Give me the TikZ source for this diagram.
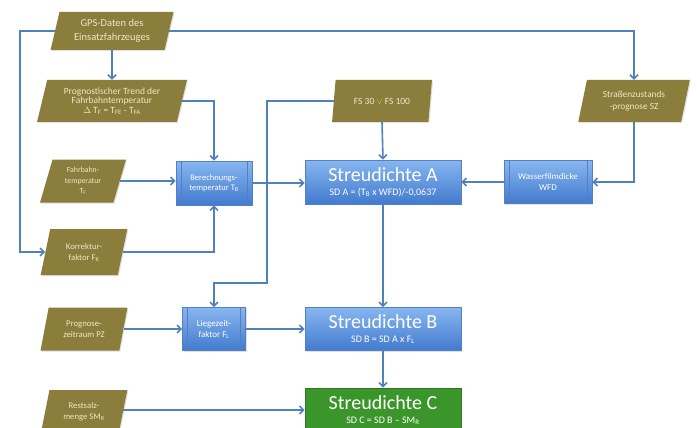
\documentclass[tikz,border=0pt]{standalone}
\usepackage{fontspec}
\setmainfont{Carlito}
\usetikzlibrary{shapes.geometric,arrows.meta,shadows}
\definecolor{olivebox}{RGB}{139,125,60}
\definecolor{cream}{RGB}{240,232,195}
\definecolor{lineblue}{RGB}{79,129,189}
\definecolor{boxtop}{RGB}{135,182,240}
\definecolor{boxbot}{RGB}{66,122,206}
\definecolor{boxedge}{RGB}{82,128,192}
\definecolor{greenbox}{RGB}{58,150,42}
\definecolor{veecol}{RGB}{225,205,90}
\tikzset{
  para/.style={trapezium, trapezium left angle=75, trapezium right angle=105,
    trapezium stretches=true, fill=olivebox, text=cream, align=center,
    inner sep=1pt, font=\fontsize{9.5}{11}\selectfont,
    drop shadow={opacity=0.25, shadow xshift=1pt, shadow yshift=-1pt}},
  bluebox/.style={rectangle, top color=boxtop, bottom color=boxbot,
    draw=boxedge, line width=0.6pt, text=white, align=center, inner sep=1pt,
    drop shadow={opacity=0.25, shadow xshift=1pt, shadow yshift=-1pt}},
  procbox/.style={bluebox, font=\fontsize{8.5}{10.5}\selectfont,
    path picture={
      \draw[boxedge, line width=0.6pt]
        ([xshift=5pt]path picture bounding box.north west) --
        ([xshift=5pt]path picture bounding box.south west);
      \draw[boxedge, line width=0.6pt]
        ([xshift=-5pt]path picture bounding box.north east) --
        ([xshift=-5pt]path picture bounding box.south east);}},
  sdbox/.style={bluebox},
  greenbx/.style={rectangle, fill=greenbox, draw=greenbox!80!black,
    line width=0.6pt, text=white, align=center, inner sep=1pt,
    drop shadow={opacity=0.25, shadow xshift=1pt, shadow yshift=-1pt}},
  conn/.style={draw=lineblue, line width=1.6pt,
    -{Straight Barb[length=4pt,width=8pt]}},
}
\newcommand{\bigT}[1]{{\fontsize{20}{21}\selectfont #1}}
\newcommand{\smT}[1]{{\fontsize{10}{11}\selectfont #1}}
\begin{document}
\begin{tikzpicture}[x=1pt,y=-1pt]
\useasboundingbox (0,0) rectangle (697,428);
\clip (0,0) rectangle (697,428);
\fill[white] (0,0) rectangle (697,428);

% input parallelograms
\node[para, minimum width=124pt, minimum height=38pt, font=\fontsize{10.5}{13.5}\selectfont] (gps) at (112,31) {GPS-Daten des\\Einsatzfahrzeuges};
\node[para, minimum width=150pt, minimum height=42pt, font=\fontsize{9.5}{9.5}\selectfont] (trend) at (112,101) {Prognostischer Trend der\\Fahrbahntemperatur\\$\Delta$ T\textsubscript{F} = T\textsubscript{FE} - T\textsubscript{FA}};
\node[para, minimum width=86pt, minimum height=43pt, font=\fontsize{7.8}{10.5}\selectfont] (fbt) at (83,181) {Fahrbahn-\\temperatur\\T\textsubscript{F}};
\node[para, minimum width=87pt, minimum height=46pt, font=\fontsize{8.7}{11}\selectfont] (kor) at (84,252) {Korrektur-\\faktor F\textsubscript{K}};
\node[para, minimum width=87pt, minimum height=43pt, font=\fontsize{8.7}{11}\selectfont] (prz) at (84,329) {Prognose-\\zeitraum PZ};
\node[para, minimum width=87pt, minimum height=44pt, font=\fontsize{8.7}{11}\selectfont] (rest) at (84,412) {Restsalz-\\menge SM\textsubscript{R}};
\node[para, minimum width=100pt, minimum height=42pt] (fs) at (382,101) {FS 30 \textcolor{veecol}{$\vee$} FS 100};
\node[para, minimum width=112pt, minimum height=42pt, font=\fontsize{9.3}{12}\selectfont] (sza) at (634,101) {Straßenzustands\\-prognose SZ};

% process boxes
\node[procbox, minimum width=76pt, minimum height=44pt] (ber) at (214,183) {Berechnungs-\\temperatur T\textsubscript{B}};
\node[procbox, minimum width=63pt, minimum height=43pt, font=\fontsize{9}{11}\selectfont] (lieg) at (214,329) {Liegezeit-\\faktor F\textsubscript{L}};
\node[procbox, minimum width=88pt, minimum height=43pt, font=\fontsize{9}{11}\selectfont] (wfd) at (548,182) {Wasserfilmdicke\\WFD};

% result boxes
\node[sdbox, minimum width=156pt, minimum height=44pt] (sda) at (383,182) {\bigT{Streudichte A}\\[2pt]\smT{SD A = (T\textsubscript{B} x WFD)/-0,0637}};
\node[sdbox, minimum width=156pt, minimum height=43pt] (sdb) at (383,329) {\bigT{Streudichte B}\\[2pt]\smT{SD B = SD A x F\textsubscript{L}}};
\node[greenbx, minimum width=156pt, minimum height=44pt] (sdc) at (383,410) {\bigT{Streudichte C}\\[2pt]\smT{SD C = SD B -- SM\textsubscript{R}}};

% connectors
\coordinate (lc) at (20,31);
\draw[conn] (gps.west) -- (lc) |- (kor.west);
\draw[conn] (gps.east) -| (sza.north);
\draw[conn] (gps.south) -- (trend.north);
\draw[conn] (trend.east) -| (ber.north);
\draw[conn] (fbt.east) -- (ber.west |- fbt.east);
\draw[conn] (kor.east) -| (ber.south);
\draw[conn] (ber.east) -- (sda.west |- ber.east);
\coordinate (fsc) at (267,283);
\draw[conn] (fs.west) -| (fsc) -| (lieg.north);
\draw[conn] (fs.south) -- (sda.north);
\draw[conn] (wfd.west) -- (sda.east |- wfd.west);
\draw[conn] (sza.south) |- (wfd.east);
\draw[conn] (sda.south) -- (sdb.north);
\draw[conn] (prz.east) -- (lieg.west |- prz.east);
\draw[conn] (lieg.east) -- (sdb.west |- lieg.east);
\draw[conn] (sdb.south) -- (sdc.north);
\draw[conn] (rest.east |- sdc.west) -- (sdc.west);
\end{tikzpicture}
\end{document}
